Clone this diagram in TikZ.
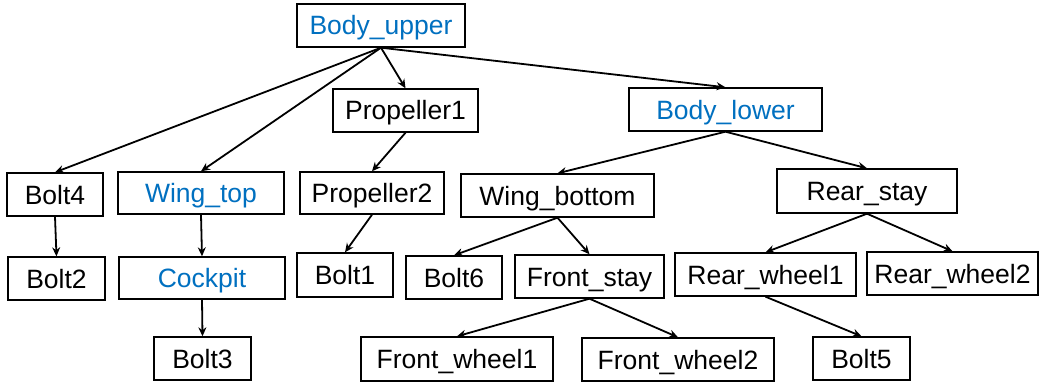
\documentclass[tikz,border=0pt]{standalone}
\usepackage{fontspec}
\setmainfont{Liberation Sans}
\usetikzlibrary{arrows.meta}
\definecolor{partblue}{RGB}{0,112,192}
\begin{document}
\begin{tikzpicture}[x=1pt,y=-1pt,
  box/.style={draw=black,line width=1.4pt,fill=white,inner sep=0pt,
    minimum height=43pt,text height=19pt,text depth=0pt,
    font=\fontsize{26.5}{30}\selectfont},
  bluebox/.style={box,text=partblue},
  link/.style={line width=1.8pt,-{Stealth[length=9pt,width=8pt]}}]
\useasboundingbox (0,0) rectangle (1040,385);
\node[bluebox,minimum width=168pt] (bu) at (381,25.5) {Body\_upper};
\node[box,minimum width=145pt] (p1) at (405.5,110.5) {Propeller1};
\node[bluebox,minimum width=193pt] (bl) at (725.5,109.5) {Body\_lower};
\node[box,minimum width=96pt] (b4) at (55,194.5) {Bolt4};
\node[bluebox,minimum width=166pt,minimum height=42pt] (wt) at (201,193) {Wing\_top};
\node[box,minimum width=144pt,minimum height=42pt] (p2) at (372,193) {Propeller2};
\node[box,minimum width=193pt] (wb) at (557.5,195.5) {Wing\_bottom};
\node[box,minimum width=180pt,minimum height=44pt] (rs) at (867,191) {Rear\_stay};
\node[box,minimum width=97pt] (b2) at (56.5,278.5) {Bolt2};
\node[bluebox,minimum width=166pt,minimum height=42pt] (ck) at (202,278) {Cockpit};
\node[box,minimum width=96pt,minimum height=44pt] (b1) at (345,275) {Bolt1};
\node[box,minimum width=96pt] (b6) at (454,277.5) {Bolt6};
\node[box,minimum width=149pt] (fs) at (589.5,276.5) {Front\_stay};
\node[box,minimum width=181pt] (rw1) at (765.5,274.5) {Rear\_wheel1};
\node[box,minimum width=171pt] (rw2) at (952.5,273.5) {Rear\_wheel2};
\node[box,minimum width=97pt] (b3) at (202.5,358.5) {Bolt3};
\node[box,minimum width=192pt,minimum height=44pt] (fw1) at (457,359) {Front\_wheel1};
\node[box,minimum width=192pt] (fw2) at (678,359.5) {Front\_wheel2};
\node[box,minimum width=97pt] (b5) at (861.5,358.5) {Bolt5};
\foreach \a/\b in {bu/b4,bu/wt,bu/p1,bu/bl,p1/p2,bl/wb,bl/rs,b4/b2,wt/ck,ck/b3,p2/b1,wb/b6,wb/fs,rs/rw1,rs/rw2,fs/fw1,fs/fw2,rw1/b5}
  \draw[link] (\a.south) -- (\b.north);
\end{tikzpicture}
\end{document}
